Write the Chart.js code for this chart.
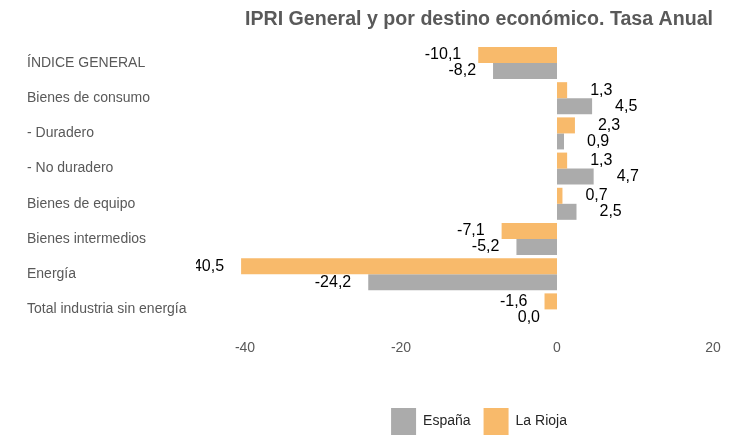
<!DOCTYPE html>
<html>
<head>
<meta charset="utf-8">
<script src="https://cdn.jsdelivr.net/npm/chart.js@4/dist/chart.umd.min.js"></script>
<style>
html,body{margin:0;padding:0;overflow:hidden;background:#fff;}
#wrap{width:742px;height:445px;position:relative;}
</style>
</head>
<body>
<div id="wrap"><canvas id="c"></canvas></div>
<script>
const categories = ["ÍNDICE GENERAL","Bienes de consumo","- Duradero","- No duradero","Bienes de equipo","Bienes intermedios","Energía","Total industria sin energía"];
const laRioja = [-10.1, 1.3, 2.3, 1.3, 0.7, -7.1, -40.5, -1.6];
const espana = [-8.2, 4.5, 0.9, 4.7, 2.5, -5.2, -24.2, 0.0];
const xTickValues = [-40, -20, 0, 20];
const titleText = "IPRI General y por destino económico. Tasa Anual";

const FONT = "'Liberation Sans', Arial, sans-serif";

const dataLabels = {
  id: 'dataLabels',
  afterDatasetsDraw(chart) {
    const ctx = chart.ctx;
    ctx.save();
    ctx.beginPath();
    ctx.rect(196, 0, chart.width - 196, chart.height);
    ctx.clip();
    ctx.font = "16px " + FONT;
    ctx.fillStyle = "#000";
    ctx.textBaseline = "middle";
    chart.data.datasets.forEach((ds, di) => {
      const meta = chart.getDatasetMeta(di);
      meta.data.forEach((el, i) => {
        const v = ds.data[i];
        const txt = v.toFixed(1).replace('.', ',');
        if (v > 0) {
          ctx.textAlign = "left";
          ctx.fillText(txt, el.x + 23, el.y);
        } else {
          ctx.textAlign = "right";
          ctx.fillText(txt, el.x - 17, el.y);
        }
      });
    });
    ctx.restore();
  }
};

new Chart(document.getElementById('c'), {
  type: 'bar',
  data: {
    labels: categories,
    datasets: [
      { label: 'La Rioja', data: laRioja, backgroundColor: '#F8BA6B', borderWidth: 0, clip: false },
      { label: 'España', data: espana, backgroundColor: '#ABABAB', borderWidth: 0, clip: false }
    ]
  },
  options: {
    indexAxis: 'y',
    responsive: true,
    maintainAspectRatio: false,
    animation: false,
    datasets: { bar: { categoryPercentage: 0.91, barPercentage: 1.0 } },
    layout: { padding: { left: 27, right: 29, top: 0, bottom: 0 } },
    plugins: {
      title: {
        display: true,
        text: titleText,
        fullSize: false,
        color: '#595959',
        font: { family: FONT, size: 20, weight: 'bold' },
        padding: { top: 7, bottom: 14.4 }
      },
      legend: {
        display: true,
        position: 'bottom',
        fullSize: false,
        reverse: true,
        labels: {
          boxWidth: 25,
          boxHeight: 27,
          padding: 13,
          color: '#262626',
          font: { family: FONT, size: 14 }
        }
      },
      tooltip: { enabled: false }
    },
    scales: {
      x: {
        min: -40,
        max: 20,
        afterBuildTicks(scale) { scale.ticks = xTickValues.map(v => ({ value: v })); },
        afterFit(scale) { scale.height = 68; },
        grid: { display: false, drawTicks: false },
        border: { display: false },
        ticks: {
          padding: 13,
          color: '#595959',
          font: { family: FONT, size: 14 }
        }
      },
      y: {
        afterFit(scale) { scale.width = 218; },
        grid: { display: false, drawTicks: false },
        border: { display: false },
        ticks: {
          crossAlign: 'far',
          color: '#595959',
          font: { family: FONT, size: 14 }
        }
      }
    }
  },
  plugins: [dataLabels]
});
</script>
</body>
</html>
